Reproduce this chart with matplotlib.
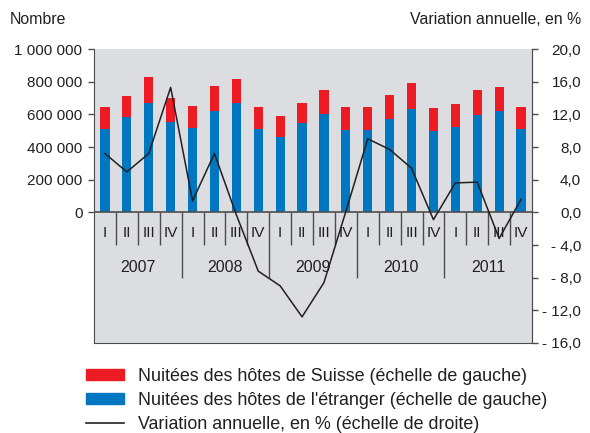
import matplotlib
matplotlib.use("Agg")
import matplotlib.pyplot as plt
from matplotlib.patches import Patch
from matplotlib.lines import Line2D

plt.rcParams['font.family'] = ['Liberation Sans', 'DejaVu Sans']

# Données (nuitées par trimestre, 2007-2011)
trimestres = ['I', 'II', 'III', 'IV'] * 5
annees = ['2007', '2008', '2009', '2010', '2011']
etranger = [511000, 583000, 671000, 556000, 519000, 618000, 667000, 511000,
            462000, 544000, 605000, 507000, 507000, 573000, 630000, 499000,
            524000, 593000, 618000, 511000]
suisse = [131000, 131000, 155000, 141000, 133000, 153000, 151000, 135000,
          129000, 127000, 146000, 139000, 139000, 147000, 163000, 141000,
          141000, 158000, 151000, 135000]
variation = [7.2, 4.95, 7.2, 15.3, 1.4, 7.2, -0.3, -7.2, -9.0, -12.8,
             -8.6, 0.1, 9.0, 7.7, 5.4, -0.9, 3.6, 3.7, -3.2, 1.6]

left_ticks = [0, 200000, 400000, 600000, 800000, 1000000]
left_labels = ['0', '200 000', '400 000', '600 000', '800 000', '1 000 000']
right_ticks = [20, 16, 12, 8, 4, 0, -4, -8, -12, -16]
right_labels = ['20,0', '16,0', '12,0', '8,0', '4,0', '0,0',
                '- 4,0', '- 8,0', '- 12,0', '- 16,0']

legend_labels = ["Nuitées des hôtes de Suisse (échelle de gauche)",
                 "Nuitées des hôtes de l'étranger (échelle de gauche)",
                 "Variation annuelle, en % (échelle de droite)"]

RED = '#ed1c24'
BLUE = '#0077c0'
GREY = '#4d4d4f'
TXT = '#231f20'
FS = 11

W, H = 590, 433
fig = plt.figure(figsize=(W / 100, H / 100), dpi=100)
ax = fig.add_axes([94 / W, 1 - 343 / H, (532 - 94) / W, (343 - 49) / H])
ax.set_facecolor('#dcdde0')

x = list(range(len(etranger)))
ax.bar(x, etranger, width=0.42, color=BLUE, zorder=2)
ax.bar(x, suisse, bottom=etranger, width=0.42, color=RED, zorder=2)
ax.set_xlim(-0.5, len(x) - 0.5)
ax.set_ylim(-800000, 1000000)
ax.axhline(0, color=GREY, lw=1.2, zorder=3)

# séparateurs trimestres / années
for i in range(1, len(x)):
    ymin = -400000 if i % 4 == 0 else -200000
    ax.vlines(i - 0.5, ymin, 0, color=GREY, lw=1, zorder=3)
for i, q in enumerate(trimestres):
    ax.text(i, -128000, q, ha='center', va='center', fontsize=FS, color=TXT)
for k, a in enumerate(annees):
    ax.text(4 * k + 1.5, -335000, a, ha='center', va='center', fontsize=FS + 0.5, color=TXT)

ax.set_yticks(left_ticks)
ax.set_yticklabels(left_labels)
ax.set_xticks([])
ax.tick_params(axis='y', direction='out', length=4.3, width=1, color=GREY,
               labelsize=FS, labelcolor=TXT, pad=4)
for s in ['left', 'right', 'bottom']:
    ax.spines[s].set_color(GREY)
ax.spines['top'].set_visible(False)

ax2 = ax.twinx()
ax2.plot(x, variation, color=TXT, lw=1.1, zorder=4)
ax2.set_ylim(-16, 20)
ax2.set_yticks(right_ticks)
ax2.set_yticklabels(right_labels, ha='right')
ax2.tick_params(axis='y', direction='out', length=4.3, width=1, color=GREY,
                labelsize=FS, labelcolor=TXT, pad=31)
ax2.spines['right'].set_color(GREY)
ax2.spines['top'].set_visible(False)
ax2.spines['left'].set_visible(False)
ax2.spines['bottom'].set_visible(False)

fig.text(10 / W, 1 - 20 / H, 'Nombre', va='center', ha='left', fontsize=11.4, color=TXT)
fig.text(581 / W, 1 - 20 / H, 'Variation annuelle, en %', va='center', ha='right',
         fontsize=11.4, color=TXT)

handles = [Patch(color=RED), Patch(color=BLUE), Line2D([], [], color=TXT, lw=1.2)]
fig.legend(handles, legend_labels, loc='upper left', bbox_to_anchor=(86 / W, 1 - 368 / H),
           frameon=False, fontsize=12.9, handlelength=2.1, handleheight=0.6,
           handletextpad=0.83, labelspacing=0.38, borderaxespad=0, borderpad=0,
           labelcolor=TXT)

fig.savefig('out.png', dpi=100)
